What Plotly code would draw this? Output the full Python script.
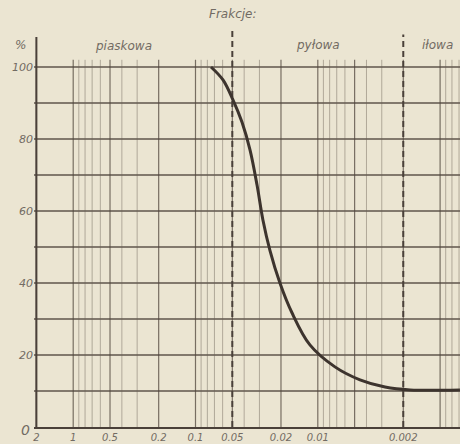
import math
import plotly.graph_objects as go

# ---- data ----
diameter_mm = [0.0747, 0.0596, 0.0493, 0.0417, 0.0358, 0.0314, 0.0281, 0.0246, 0.0204,
               0.0163, 0.0116, 0.00724, 0.00452, 0.00282, 0.00176, 0.000688]
passing_pct = [100, 96.4, 90.8, 84.7, 76.9, 67.2, 57.5, 49.0, 40.0,
               31.8, 22.8, 16.7, 13.1, 11.1, 10.3, 10.3]

x_tick_vals = [2, 1, 0.5, 0.2, 0.1, 0.05, 0.02, 0.01, 0.002]
x_tick_text = ["2", "1", "0.5", "0.2", "0.1", "0.05", "0.02", "0.01", "0.002"]
y_tick_vals = [0, 10, 20, 30, 40, 50, 60, 70, 80, 90, 100]
y_tick_text = ["", "", "20", "", "40", "", "60", "", "80", "", "100"]
fraction_bounds = [0.05, 0.002]
fraction_names = ["piaskowa", "pyłowa", "iłowa"]

# ---- styling ----
BG = "#ebe5d2"
INK = "#4a4039"
TXT = "#726b63"
W, H = 460, 444
L, R, T, B = 34, 0, 20, 17
PW, PH = W - L - R, H - T - B
px_per_dec = 122.3
x_one = 73.2  # pixel of d = 1 mm
x_left = (x_one - L) / px_per_dec
x_right = -(W - R - x_one) / px_per_dec
y_top = PH / 3.6


def xp(px):
    return (px - L) / PW


def yp(py):
    return (H - B - py) / PH


fig = go.Figure()

# vertical grid lines (semi-log paper)
minor_x, minor_y, major_x, major_y = [], [], [], []
for e in range(-4, 1):
    for k in range(1, 10):
        v = k * 10 ** e
        if v < 10 ** x_right or v > 2:
            continue
        if k in (1, 2, 5):
            major_x += [v, v, None]
            major_y += [0, 102, None]
        else:
            minor_x += [v, v, None]
            minor_y += [0, 102, None]
fig.add_trace(go.Scatter(x=minor_x, y=minor_y, mode="lines",
                         line=dict(color="rgba(105,95,85,0.45)", width=1),
                         hoverinfo="skip", showlegend=False))
fig.add_trace(go.Scatter(x=major_x, y=major_y, mode="lines",
                         line=dict(color="rgba(80,70,60,0.75)", width=1.2),
                         hoverinfo="skip", showlegend=False))

# fraction boundaries (dashed)
for b, top in zip(fraction_bounds, [111, 109]):
    fig.add_trace(go.Scatter(x=[b, b], y=[0, top], mode="lines",
                             line=dict(color=INK, width=2, dash="6px,4px"),
                             hoverinfo="skip", showlegend=False))

# left axis line
fig.add_trace(go.Scatter(x=[2, 2], y=[0, 108.3], mode="lines",
                         line=dict(color=INK, width=2),
                         hoverinfo="skip", showlegend=False))

# grading curve
fig.add_trace(go.Scatter(x=diameter_mm, y=passing_pct, mode="lines",
                         line=dict(color="#3d342e", width=3, shape="spline", smoothing=1.0),
                         hoverinfo="skip", showlegend=False))

fig.update_xaxes(type="log", range=[x_left, x_right], tickmode="array",
                 tickvals=x_tick_vals, ticktext=x_tick_text, showgrid=False,
                 showline=True, linecolor=INK, linewidth=2, ticks="", zeroline=False,
                 tickfont=dict(family="DejaVu Sans", size=10, color=TXT, style="italic"))
fig.update_yaxes(range=[0, y_top], tickmode="array", tickvals=y_tick_vals,
                 ticktext=y_tick_text, showgrid=True,
                 gridcolor="rgba(85,75,65,0.7)", gridwidth=1.5, showline=False,
                 zeroline=False, ticks="",
                 tickfont=dict(family="DejaVu Sans", size=11, color=TXT, style="italic"))

ann_font = dict(family="DejaVu Sans", size=12, color=TXT, style="italic")
annotations = [
    dict(text="Frakcje:", x=xp(233), y=yp(14)),
    dict(text=fraction_names[0], x=xp(123), y=yp(46)),
    dict(text=fraction_names[1], x=xp(318), y=yp(45)),
    dict(text=fraction_names[2], x=xp(437), y=yp(45)),
    dict(text="%", x=xp(20), y=yp(45)),
    dict(text="0", x=xp(25), y=yp(430), size=14),
]
for a in annotations:
    f = dict(ann_font)
    if "size" in a:
        f["size"] = a.pop("size")
    fig.add_annotation(xref="paper", yref="paper", showarrow=False,
                       xanchor="center", yanchor="middle", font=f, **a)

fig.update_layout(width=W, height=H, margin=dict(l=L, r=R, t=T, b=B),
                  paper_bgcolor=BG, plot_bgcolor=BG, showlegend=False)

fig.write_html("out.html")
